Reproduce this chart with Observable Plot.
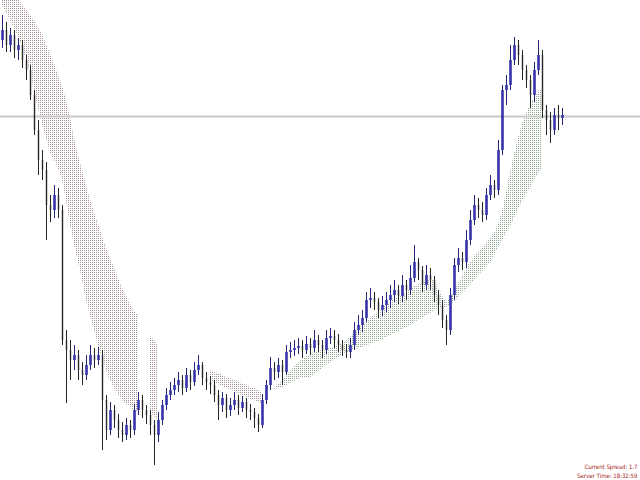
<!DOCTYPE html>
<html>
<head>
<meta charset="utf-8">
<script src="https://cdn.jsdelivr.net/npm/d3@7"></script>
<script src="https://cdn.jsdelivr.net/npm/@observablehq/plot@0.6"></script>
<style>
  html, body { margin: 0; padding: 0; background: #ffffff; overflow: hidden; }
  #chart svg { display: block; }
</style>
</head>
<body>
<div id="chart"></div>
<script>
// Price values (points), one per bar
const close = [
  450,435,445,430,435,420,410,385,350,320,
  310,275,270,285,270,140,130,120,125,110,
  105,115,125,120,125,80,50,70,60,50,
  45,55,50,70,80,70,65,55,45,60,
  75,85,90,95,100,92,105,98,110,115,
  102,98,95,85,75,82,70,75,80,72,
  78,70,68,62,55,80,95,112,108,115,
  108,128,130,132,134,130,136,132,140,135,
  130,142,144,140,135,130,128,135,150,155,
  162,180,182,178,170,175,180,185,190,184,
  195,190,202,218,210,195,205,200,185,175,
  160,150,185,215,222,218,240,260,275,270,
  265,285,295,290,330,390,395,420,435,425,
  410,400,385,410,425,370,360,350,365,362,365
];
const high = [
  465,458,452,450,442,440,425,415,390,360,
  330,318,285,295,292,275,150,140,135,130,
  118,125,135,132,133,130,85,78,75,66,
  58,62,60,76,88,85,75,70,60,68,
  80,92,98,102,108,105,112,110,118,125,
  118,108,104,100,90,88,86,82,88,85,
  84,82,76,72,66,86,100,123,118,122,
  120,135,138,140,142,140,144,142,150,145,
  140,150,152,150,146,140,136,142,158,165,
  170,188,192,188,182,184,188,195,200,195,
  205,200,215,235,222,214,215,212,204,190,
  180,165,192,222,232,228,250,270,285,282,
  278,292,305,300,340,395,405,435,443,440,
  430,415,405,418,440,430,375,368,372,375,372
];
const low = [
  432,428,428,422,420,412,400,380,345,305,
  300,240,258,262,262,135,77,100,110,100,
  95,100,110,112,115,30,40,45,52,42,
  38,40,42,45,65,62,56,45,15,38,
  55,70,80,85,88,85,88,90,94,105,
  95,90,86,78,60,68,62,64,70,65,
  68,62,60,52,48,52,76,90,100,102,
  95,105,122,124,126,122,126,125,128,128,
  122,126,136,132,128,124,122,122,130,145,
  148,158,172,170,162,164,168,172,178,176,
  178,180,185,198,200,188,190,190,178,165,
  152,135,145,180,208,210,212,235,255,262,
  258,260,280,282,285,325,375,390,415,415,
  400,392,372,378,405,362,345,337,345,350,355
];
const firstOpen = 440;
// Fast and slow moving averages bounding the cloud (null = not drawn)
const maFast = [
  475,468,460,452,444,434,420,406,390,372,
  356,342,327,320,312,300,280,255,235,218,
  200,180,165,150,135,122,110,100,92,86,
  80,76,73,70,68,null,null,68,64,60,
  null,null,null,null,null,null,null,null,null,null,
  null,null,100,98,96,94,92,91,89,87,
  85,83,81,80,78,76,null,null,92,96,
  99,104,109,114,118,121,124,126,128,129,
  130,131,132,133,135,137,140,143,147,151,
  155,159,162,165,169,172,175,178,181,183,
  185,188,191,194,196,198,200,201,200,192,
  184,178,182,190,197,204,212,218,223,228,
  232,237,242,248,256,270,288,308,326,343,
  356,366,376,383,389,392,null,null,null,null,null
];
const maSlow = [
  505,498,492,486,481,476,470,465,459,453,
  446,436,426,416,405,394,380,362,342,325,
  310,295,280,268,256,244,232,222,212,202,
  192,184,176,169,164,null,null,144,140,135,
  null,null,null,null,null,null,null,null,null,null,
  null,null,110,108,107,105,103,102,100,98,
  97,95,93,92,90,88,null,null,91,92,
  93,95,97,99,101,103,103,103,106,109,
  112,115,118,121,123,126,128,130,131,132,
  133,135,136,138,139,141,143,145,147,149,
  151,153,155,158,160,162,165,167,170,171,
  172,173,175,179,183,187,191,195,200,205,
  209,213,218,225,233,240,247,254,262,271,
  279,286,293,300,307,312,null,null,null,null,null
];
const levelLine = [364];
const infoText = ["Current Spread: 1.7", "Server Time: 18:32:59"];

const rows = close.map((c, i) => {
  const o = i === 0 ? firstOpen : close[i - 1];
  const f = maFast[i], s = maSlow[i];
  const has = f != null && s != null;
  return {
    i, open: o, close: c, high: high[i], low: low[i],
    up: c >= o,
    redLo: has && s > f ? f : NaN, redHi: has && s > f ? s : NaN,
    grnLo: has && f >= s ? s : NaN, grnHi: has && f >= s ? f : NaN
  };
});

const UP = "#3434a8", UPW = "#24247e", DN = "#262626";

const chart = Plot.plot({
  width: 640,
  height: 480,
  margin: 0,
  x: { domain: [-0.5, 159.5], axis: null },
  y: { domain: [0, 480], axis: null },
  style: { background: "#ffffff" },
  marks: [
    Plot.areaY(rows, { x: "i", y1: "redLo", y2: "redHi", fill: "url(#redDots)", clip: true }),
    Plot.areaY(rows, { x: "i", y1: "grnLo", y2: "grnHi", fill: "url(#grnDots)", clip: true }),
    Plot.ruleY(levelLine, { stroke: "#c8c8c8", strokeWidth: 2 }),
    Plot.ruleX(rows, { x: "i", y1: "low", y2: "high", stroke: d => d.up ? UPW : DN, strokeWidth: 1 }),
    Plot.ruleX(rows, { x: "i", y1: "open", y2: "close", stroke: d => d.up ? UP : DN, strokeWidth: d => d.up ? 2.6 : 1.4 }),
    Plot.text([infoText.join("\n")], {
      frameAnchor: "bottom-right", dx: -3, dy: -3, lineAnchor: "bottom",
      textAnchor: "end", fill: "#a81c1c", fontSize: 6, lineHeight: 1.5,
      fontFamily: "'Liberation Sans Narrow', 'Arial Narrow', 'DejaVu Sans Condensed', sans-serif"
    })
  ]
});

// dotted fill patterns for the cloud
const defs = d3.select(chart).insert("defs", ":first-child");
[["redDots", "#a89292"], ["grnDots", "#8fa88f"]].forEach(([id, col]) => {
  const p = defs.append("pattern").attr("id", id)
    .attr("patternUnits", "userSpaceOnUse").attr("width", 2).attr("height", 2);
  p.append("rect").attr("width", 2).attr("height", 2).attr("fill", "#ffffff");
  p.append("rect").attr("width", 1).attr("height", 1).attr("fill", col);
});

document.getElementById("chart").appendChild(chart);
</script>
</body>
</html>
